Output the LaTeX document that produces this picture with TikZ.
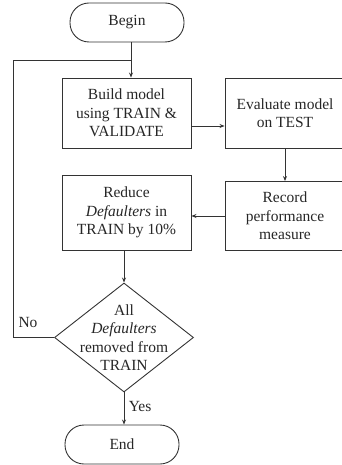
\documentclass[tikz,border=0pt]{standalone}
\usepackage{fontspec}
\setmainfont{Liberation Serif}
\usetikzlibrary{arrows.meta,shapes.geometric}

\begin{document}
\begin{tikzpicture}[>={Stealth[length=5pt,width=4pt]}, x=1pt, y=-1pt,
    every node/.style={font=\fontsize{15.5}{18.5}\selectfont, text=black!85},
    line/.style={draw=black!80, line width=0.9pt},
    terminal/.style={line, rectangle, rounded corners=19pt, minimum width=114pt, minimum height=39pt, inner sep=0pt},
    process/.style={line, rectangle, align=center, inner sep=0pt},
    decision/.style={line, diamond, minimum width=139pt, minimum height=109pt, inner sep=0pt}]
  \useasboundingbox (0,0) rectangle (341,465);
  % start and end
  \node[terminal] (begin) at (127,22.5) {Begin};
  \node[terminal] (finish) at (122,444.5) {End};
  % process boxes
  \node[process, minimum width=129pt, minimum height=70pt] (build) at (126.5,113) {Build model\\using TRAIN \&\\VALIDATE};
  \node[process, minimum width=120pt, minimum height=70pt] (evaluate) at (285,113) {Evaluate model\\on TEST};
  \node[process, minimum width=120pt, minimum height=69pt] (record) at (285,216) {Record\\performance\\measure};
  \node[process, minimum width=129pt, minimum height=75pt] (reduce) at (126.5,212.5) {Reduce\\\textit{Defaulters} in\\TRAIN by 10\%};
  % decision
  \node[decision] (check) at (124,337.5) {};
  \node[align=center] (checktext) at (check) {All\\\textit{Defaulters}\\removed from\\TRAIN};
  % connectors
  \coordinate (loop) at (13,60);
  \coordinate (join) at (131,60);
  \draw[line, ->] (begin.south -| join) -- (build.north -| join);
  \draw[line, ->] ([yshift=-13pt]build.east) -- ([yshift=-13pt]build.east -| evaluate.west);
  \draw[line, ->] (evaluate.south) -- (record.north);
  \draw[line, ->] (record.west) -- (record.west -| reduce.east);
  \draw[line, ->] (reduce.south -| check) -- (check.north);
  \draw[line, ->] (check.south) -- (check.south |- finish.north) node[pos=0.45, right=1pt]{Yes};
  \draw[line] (check.west) -| (loop) -- (join);
  \node (no) at (28,322) {No};
\end{tikzpicture}
\end{document}
